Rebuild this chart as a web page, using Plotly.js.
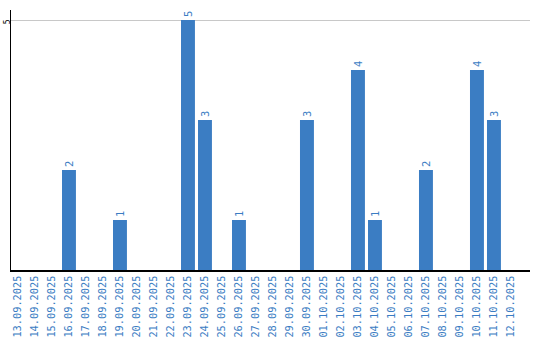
<!DOCTYPE html>
<html><head><meta charset="utf-8">
<script src="https://cdn.plot.ly/plotly-3.0.1.min.js"></script>
<style>html,body{margin:0;padding:0;background:#fff}#c{width:540px;height:340px}</style>
</head><body><div id="c"></div>
<script>
const dates = ["13.09.2025","14.09.2025","15.09.2025","16.09.2025","17.09.2025","18.09.2025","19.09.2025","20.09.2025","21.09.2025","22.09.2025","23.09.2025","24.09.2025","25.09.2025","26.09.2025","27.09.2025","28.09.2025","29.09.2025","30.09.2025","01.10.2025","02.10.2025","03.10.2025","04.10.2025","05.10.2025","06.10.2025","07.10.2025","08.10.2025","09.10.2025","10.10.2025","11.10.2025","12.10.2025"];
const counts = [0,0,0,2,0,0,1,0,0,0,5,3,0,1,0,0,0,3,0,0,4,1,0,0,2,0,0,4,3,0];
const labels = counts.map(v => v > 0 ? String(v) : "");
const blue = "#3b7dc3";
Plotly.newPlot("c", [{
  type: "bar", x: dates, y: counts, text: labels,
  textposition: "outside", textangle: -90, cliponaxis: false,
  textfont: {family: "DejaVu Sans Mono", size: 10.5, color: blue},
  marker: {color: blue}, width: 0.82, hoverinfo: "none"
}], {
  width: 540, height: 340,
  margin: {l: 11, r: 10, t: 10, b: 70},
  paper_bgcolor: "#fff", plot_bgcolor: "#fff",
  showlegend: false,
  xaxis: {type: "category", range: [-0.41, 30.12], tickangle: -90,
    tickfont: {family: "DejaVu Sans Mono", size: 10.3, color: blue},
    showline: true, linecolor: "#000", linewidth: 1.5, ticks: "", showgrid: false, zeroline: false, fixedrange: true},
  yaxis: {range: [0, 5.2], tickvals: [5], ticktext: ["5"], tickangle: -90, ticklabelstandoff: -4, ticklabelshift: 3,
    tickfont: {family: "DejaVu Sans Mono", size: 8, color: "#000"},
    showline: true, linecolor: "#000", linewidth: 1.5, ticks: "", showgrid: true, gridcolor: "#c8c8c8", gridwidth: 1, zeroline: false, fixedrange: true}
}, {displayModeBar: false, staticPlot: true});
</script></body></html>
